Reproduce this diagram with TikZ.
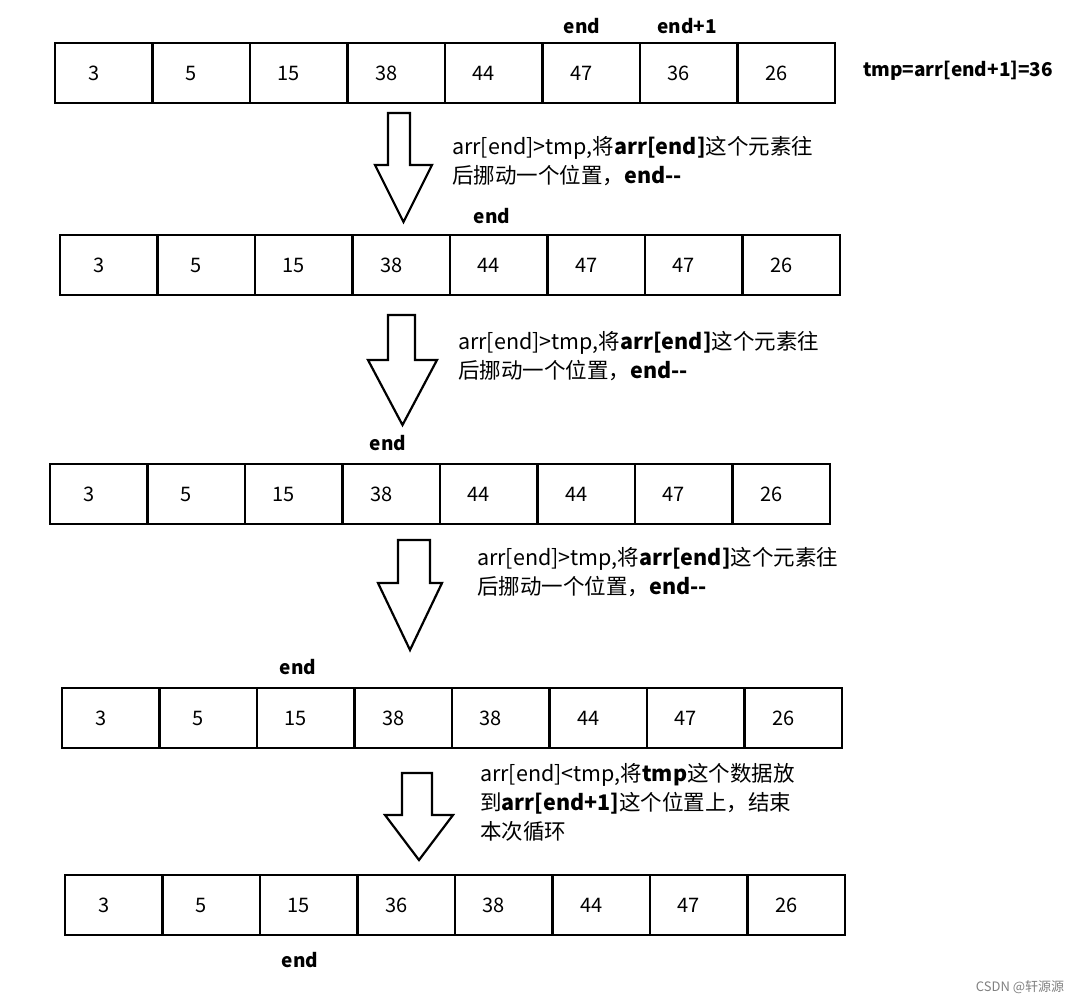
\documentclass[tikz,border=0pt]{standalone}
\usepackage{fontspec}
\setmainfont{Noto Sans CJK SC}
\begin{document}
\begin{tikzpicture}[x=1pt,y=-1pt,
  cellbox/.style={draw,line width=2.6pt,minimum width=97.5pt,minimum height=60pt,inner sep=0pt,outer sep=0pt},
  num/.style={font=\fontsize{20}{22}\selectfont},
  lab/.style={font=\fontsize{21.5}{29}\selectfont,align=left,anchor=north west,inner sep=0pt},
  hollow/.style={draw,line width=2.2pt,fill=white,line join=miter}]
\useasboundingbox (0,0) rectangle (1091,1004);
\newcommand{\myrow}[4]{% x, y(center), name, list
  \foreach \v [count=\i] in {#4} {
    \node[cellbox] (#3c\i) at ({#1+48.75+97.5*(\i-1)},#2) {};
    \node[num] at ({#1+48.75+97.5*(\i-1)-10},#2) {\v};
  }}
\myrow{55}{73}{a}{3,5,15,38,44,47,36,26}
\myrow{60}{265}{b}{3,5,15,38,44,47,47,26}
\myrow{50}{494}{c}{3,5,15,38,44,44,47,26}
\myrow{62}{718}{d}{3,5,15,38,38,44,47,26}
\myrow{65}{905}{e}{3,5,15,36,38,44,47,26}
% arrows
\newcommand{\hollowdown}[7]{% shaft l, shaft r, top, headtop, head l, head r, tip
  \draw[hollow] (#1,#3) -- (#2,#3) -- (#2,#4) -- (#6,#4) -- ({(#5+#6)/2},#7) -- (#5,#4) -- (#1,#4) -- cycle;}
\hollowdown{388}{410}{113}{165}{375}{432}{222}
\hollowdown{388}{415}{315}{360}{368}{437}{425}
\hollowdown{398}{430}{540}{583}{378}{442}{650}
\hollowdown{402}{432}{773}{815}{385}{453}{860}
% labels
\node[num,font=\bfseries\fontsize{19}{22}\selectfont] (e1) at (582,26) {end};
\node[num,font=\bfseries\fontsize{19}{22}\selectfont] (e2) at (687,26) {end+1};
\node[num,font=\bfseries\fontsize{19}{22}\selectfont] (t) at (958,71) {tmp=arr[end+1]=36};
\node[num,font=\bfseries\fontsize{19}{22}\selectfont] (e3) at (492,216) {end};
\node[num,font=\bfseries\fontsize{19}{22}\selectfont] (e4) at (388,443) {end};
\node[num,font=\bfseries\fontsize{19}{22}\selectfont] (e5) at (298,667) {end};
\node[num,font=\bfseries\fontsize{19}{22}\selectfont] (e6) at (300,960) {end};
\node[lab] (l1) at (452,136) {arr[end]>tmp,将\textbf{arr[end]}这个元素往\\后挪动一个位置，\textbf{end-{}-}};
\node[lab] (l2) at (458,331) {arr[end]>tmp,将\textbf{arr[end]}这个元素往\\后挪动一个位置，\textbf{end-{}-}};
\node[lab] (l3) at (477,547) {arr[end]>tmp,将\textbf{arr[end]}这个元素往\\后挪动一个位置，\textbf{end-{}-}};
\node[lab] (l4) at (480,763) {arr[end]<tmp,将\textbf{tmp}这个数据放\\到\textbf{arr[end+1]}这个位置上，结束\\本次循环};
\node[font=\fontsize{13}{15}\selectfont,text=gray] (w) at (1020,987) {CSDN @轩源源};
\end{tikzpicture}
\end{document}
